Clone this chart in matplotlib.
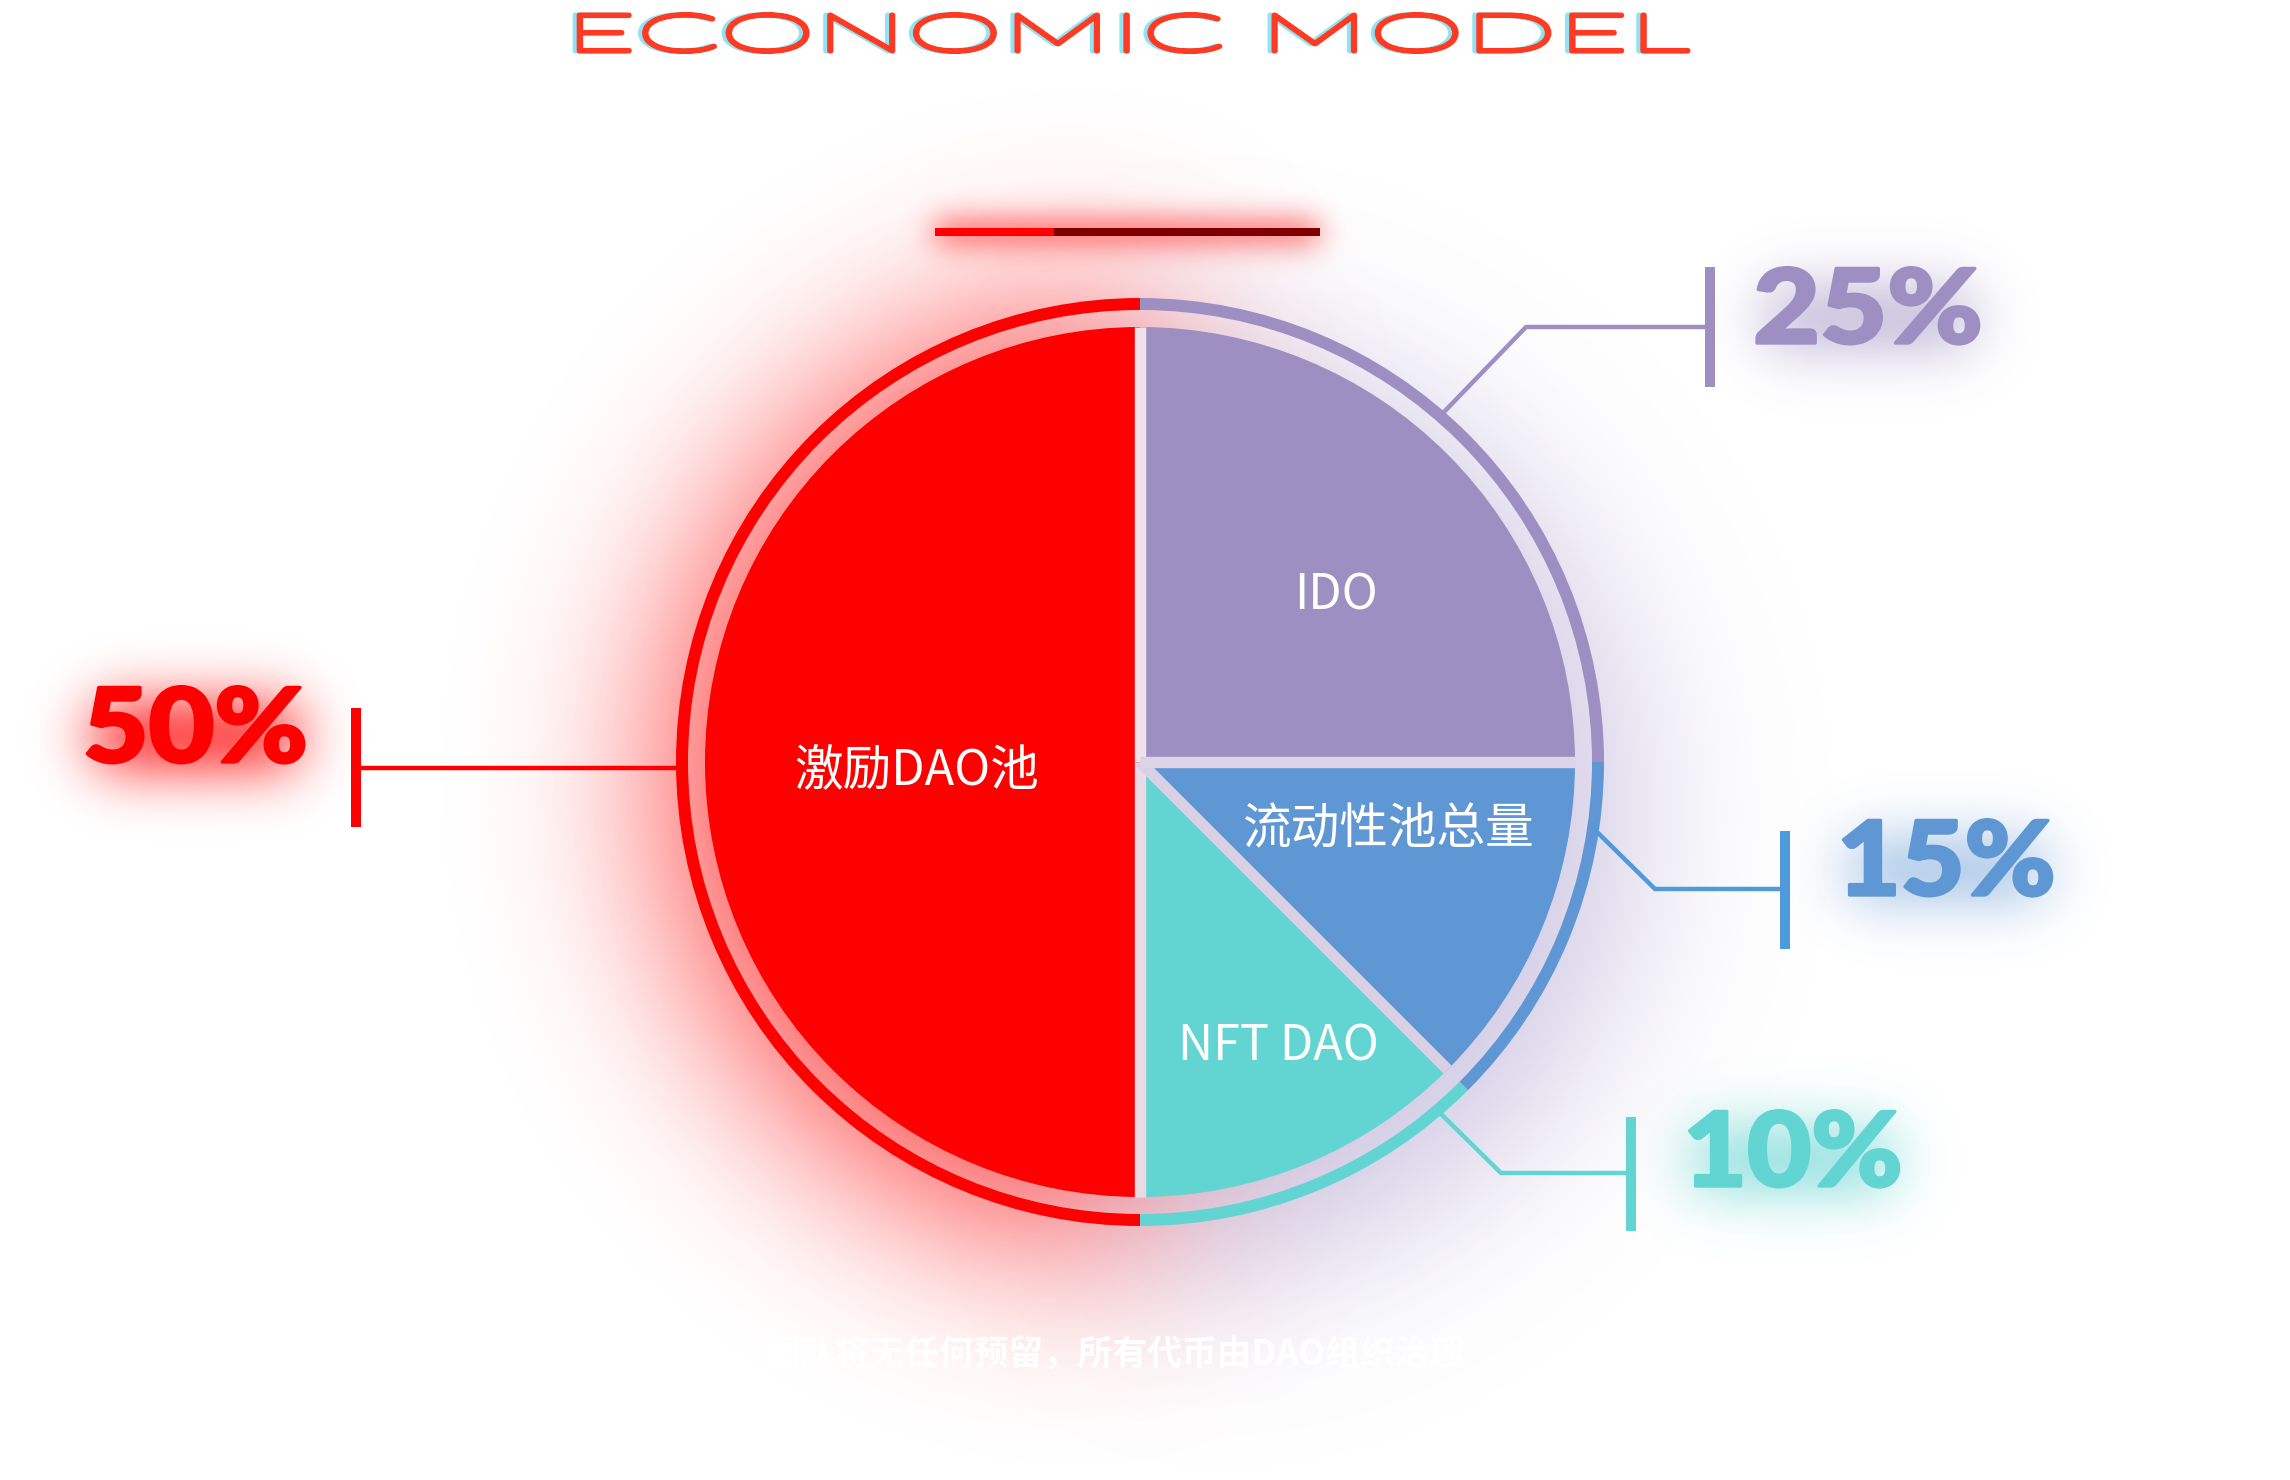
import numpy as np
import matplotlib
matplotlib.use("Agg")
import matplotlib.pyplot as plt
import matplotlib.colors as mcolors
from matplotlib import patheffects
from matplotlib.transforms import Affine2D
from matplotlib.patches import Rectangle

# ---------------- data ----------------
categories = ['激励DAO池', 'NFT DAO', '流动性池总量', 'IDO']
wedge_sizes = [50, 12.5, 12.5, 25]          # slice sizes as drawn in the picture
pct_labels = ['50%', '10%', '15%', '25%']   # printed shares
colors = ['#ff0000', '#62d5d3', '#5f97d5', '#9d8fc2']
title = 'ECONOMIC MODEL'
footnote = '团队将无任何预留，所有代币由DAO组织治理'

# ---------------- layout / style ----------------
W, H = 2290, 1480
CJK = ['Noto Sans CJK SC', 'DejaVu Sans']
fig = plt.figure(figsize=(W / 100, H / 100), dpi=100)
fig.patch.set_facecolor('white')
ax = fig.add_axes([0, 0, 1, 1])


def Y(y):
    return H - y


CX, CY = 1140, 762
R_PIE, R_RING, RING_W = 435, 464, 12

label_pos = [(917, 770), (1278, 1047), (1388, 830), (1336, 596)]
callouts = [  # (path points, bar x, bar y0, y1, text x, baseline, text width)
    ([(676, 768), (356, 768)], 356, 708, 827, 83, 762, 228),
    ([(1440, 1113), (1501, 1173), (1631, 1173)], 1631, 1117, 1231, 1683, 1186, 223),
    ([(1595, 830), (1655, 889), (1785, 889)], 1785, 831, 949, 1837, 895, 222),
    ([(1443, 413), (1526, 327), (1710, 327)], 1710, 267, 387, 1753, 343, 233),
]
bar_colors = ['#ff0000', '#62d4d2', '#4f9ad9', '#9d8fc2']
txt_colors = ['#ff0000', '#62d4d2', '#5f96d4', '#9d8fc2']
glow_alpha = [0.6, 0.5, 0.4, 0.45]

# ring
ring, _ = ax.pie(wedge_sizes, colors=colors, startangle=90, counterclock=True,
                 radius=R_RING, center=(CX, Y(CY)),
                 wedgeprops=dict(width=RING_W, linewidth=0))
for w in ring:
    w.set_zorder(2)

# pie
wedges, _ = ax.pie(wedge_sizes, colors=colors, startangle=90, counterclock=True,
                   radius=R_PIE, center=(CX, Y(CY)),
                   wedgeprops=dict(linewidth=0))
for w in wedges:
    w.set_zorder(3)

# separators between slices
sep_colors = ['#f1e1e8', '#e9dbe5', '#d9d0e5', '#dcd3e7']
for w, sc in zip(wedges, sep_colors):
    a = np.deg2rad(w.theta1)
    ax.plot([CX, CX + R_PIE * np.cos(a)], [Y(CY), Y(CY) + R_PIE * np.sin(a)],
            color=sc, lw=8.2, solid_capstyle='butt', zorder=4)

# slice labels
for cat, (lx, ly) in zip(categories, label_pos):
    ax.text(lx, Y(ly), cat, color='white', fontsize=35, ha='center',
            va='center', family=CJK, zorder=6)

# callouts
pct_texts = []
for (pts, bx, by0, by1, tx, ty, tw), col, tcol, lab in zip(callouts, bar_colors,
                                                           txt_colors, pct_labels):
    xs = [p[0] for p in pts]
    ys = [Y(p[1]) for p in pts]
    ax.plot(xs, ys, color=col, lw=3.2, solid_joinstyle='miter', zorder=5)
    ax.plot([bx, bx], [Y(by0), Y(by1)], color=col, lw=7.2,
            solid_capstyle='butt', zorder=5)
    t = ax.text(tx, Y(ty), lab, color=tcol, fontsize=74, ha='left',
                va='baseline', family=['Lato', 'DejaVu Sans'], weight='black',
                zorder=6)
    pct_texts.append((t, tcol, tw))

# top bar
ax.add_patch(Rectangle((935, Y(236)), 1054 - 935, 8, color='#ff0000', lw=0, zorder=5))
ax.add_patch(Rectangle((1054, Y(236)), 1320 - 1054, 8, color='#7f0000', lw=0, zorder=5))

# footnote (white, nearly invisible)
ax.text(1115, Y(1354), footnote, color='white', fontsize=25, weight='bold',
        ha='center', va='center', family=CJK, zorder=6)

# title
tt = ax.text(1128, Y(51), title, fontsize=37, ha='center', va='baseline',
             family=['Lato', 'DejaVu Sans'], weight=100, zorder=7)

ax.set_xlim(0, W)
ax.set_ylim(0, H)
ax.set_aspect('auto')
ax.axis('off')

fig.canvas.draw()
rend = fig.canvas.get_renderer()


class Stretch(patheffects.AbstractPathEffect):
    def __init__(self, sx, cx, dx=0.0, color='k', lw=0.0):
        super().__init__(offset=(0, 0))
        self.sx, self.cx, self.dx, self.color, self.lw = sx, cx, dx, color, lw

    def draw_path(self, renderer, gc, tpath, affine, rgbFace=None):
        gc0 = renderer.new_gc()
        gc0.copy_properties(gc)
        gc0.set_foreground(self.color)
        gc0.set_linewidth(self.lw)
        gc0.set_joinstyle('round')
        aff = affine + Affine2D().translate(-self.cx, 0).scale(self.sx, 1.0) \
            .translate(self.cx + self.dx, 0)
        renderer.draw_path(gc0, tpath, aff, mcolors.to_rgba(self.color))
        gc0.restore()


bb = tt.get_window_extent(rend)
sx = 1126 / bb.width
tcx = (bb.x0 + bb.x1) / 2
tt.set_path_effects([Stretch(sx, tcx, dx=-4, color='#8fe3f5', lw=3.6),
                     Stretch(sx, tcx, dx=0, color='#ff3a22', lw=3.6)])

# percentage labels: heavier and wider
for t, tcol, tw in pct_texts:
    b = t.get_window_extent(rend)
    lw_pt = 2.4
    s = (tw - lw_pt * 100 / 72) / b.width
    t.set_path_effects([Stretch(s, b.x0, color=tcol, lw=lw_pt)])

# ---------------- glows ----------------
F = 4
gw, gh = int(np.ceil(W / F)), int(np.ceil(H / F))
gx = (np.arange(gw) + 0.5) * F
gy = (np.arange(gh) + 0.5) * F
GX, GY = np.meshgrid(gx, gy)


def blur(a, s):
    s = s / F
    r = int(3 * s) + 1
    k = np.exp(-0.5 * (np.arange(-r, r + 1) / s) ** 2)
    k /= k.sum()
    a = np.apply_along_axis(lambda m: np.convolve(m, k, mode='same'), 0, a)
    a = np.apply_along_axis(lambda m: np.convolve(m, k, mode='same'), 1, a)
    return a


def glow(mask, color, amax):
    rgba = np.zeros(mask.shape + (4,))
    rgba[..., :3] = mcolors.to_rgb(color)
    rgba[..., 3] = np.clip(mask * amax, 0, 1)
    ax.imshow(rgba, extent=(0, W, 0, H), origin='upper', interpolation='bilinear',
              zorder=0.5, aspect='auto')


disk_red = (((GX - CX) ** 2 + (GY - CY - 15) ** 2) <= R_RING ** 2) & (GX <= CX + 20)
glow(blur(disk_red.astype(float), 95), '#ff2020', 0.9)
disk_lav = (((GX - CX - 30) ** 2 + (GY - CY - 50) ** 2) <= R_RING ** 2) & (GX >= CX)
glow(blur(disk_lav.astype(float), 85), '#b0a4d2', 0.62)

bar = (GX >= 935) & (GX <= 1320) & (GY >= 226) & (GY <= 238)
glow(blur(bar.astype(float), 15), '#ff0000', 0.9)

for (t, tcol, tw), a in zip(pct_texts, glow_alpha):
    b = t.get_window_extent(rend)
    x0 = b.x0
    m = (GX >= x0 + 15) & (GX <= x0 + tw - 15) & (GY >= H - b.y1 + 25) & (GY <= H - b.y0 - 15)
    glow(blur(m.astype(float), 30), tcol, a * 1.7)

ax.set_xlim(0, W)
ax.set_ylim(0, H)
ax.set_aspect('auto')

fig.savefig('out.png', dpi=100, facecolor='white')
